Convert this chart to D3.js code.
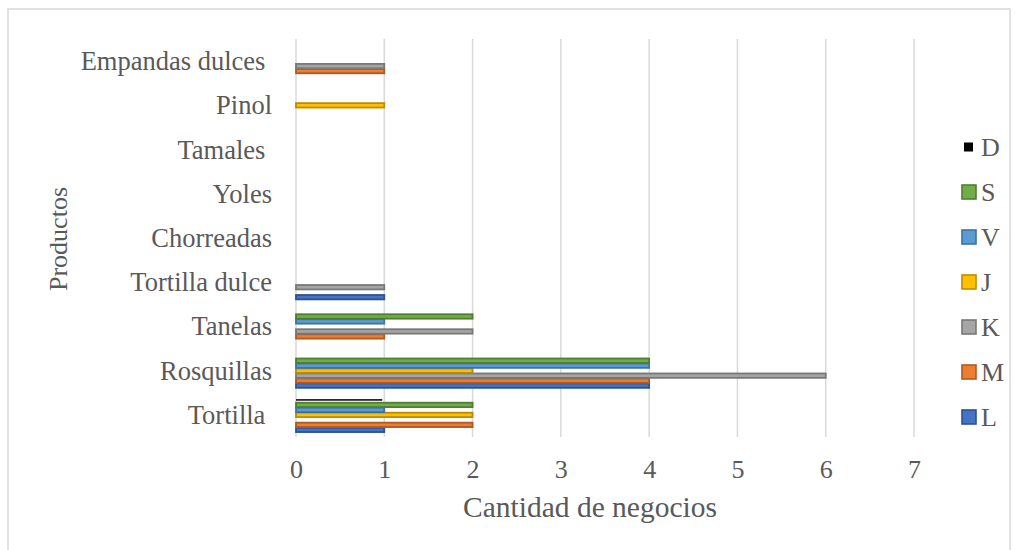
<!DOCTYPE html>
<html>
<head>
<meta charset="utf-8">
<script src="https://cdn.jsdelivr.net/npm/d3@7"></script>
<style>
  html, body { margin: 0; padding: 0; background: #fff; }
  svg { display: block; font-family: "Liberation Serif", "Times New Roman", serif; }
  text { white-space: pre; }
</style>
</head>
<body>
<svg id="chart" width="1018" height="550"></svg>
<script>
// Products, listed from the bottom of the chart to the top
const categories = ["Tortilla ", "Rosquillas", "Tanelas", "Tortilla dulce", "Chorreadas", "Yoles", "Tamales ", "Pinol", "Empandas dulces "];

// Number of businesses per product, one array per series
const L = [1, 4, 0, 1, 0, 0, 0, 0, 0];
const M = [2, 4, 1, 0, 0, 0, 0, 0, 1];
const K = [0, 6, 2, 1, 0, 0, 0, 0, 1];
const J = [2, 2, 0, 0, 0, 0, 0, 1, 0];
const V = [1, 4, 1, 0, 0, 0, 0, 0, 0];
const S = [2, 4, 2, 0, 0, 0, 0, 0, 0];
const D = [1, 0, 0, 0, 0, 0, 0, 0, 0];

const seriesNames = ["L", "M", "K", "J", "V", "S", "D"];
const seriesValues = [L, M, K, J, V, S, D];
const xTicks = [0, 1, 2, 3, 4, 5, 6, 7];

const fills   = { L: "#4472C4", M: "#ED7D31", K: "#A5A5A5", J: "#FFC000", V: "#5B9BD5", S: "#70AD47", D: "#000000" };
const strokes = { L: "#2F528F", M: "#AE5A21", K: "#787878", J: "#BC8C00", V: "#41719C", S: "#507E32", D: "#000000" };

const svg = d3.select("#chart");
const textColor = "#595959";

// Outer chart frame
svg.append("rect")
  .attr("x", 8).attr("y", 9).attr("width", 1002).attr("height", 560)
  .attr("fill", "#fff").attr("stroke", "#D9D9D9").attr("stroke-width", 1.5);

const plot = { left: 296, right: 914, top: 39, bottom: 437 };

const x = d3.scaleLinear().domain([0, 7]).range([plot.left, plot.right]);
const y = d3.scaleBand().domain(categories).range([plot.bottom, plot.top]).paddingInner(0.21).paddingOuter(0.105);
// Series stacked upward inside each band: L at the bottom, D at the top
const ySeries = d3.scaleBand().domain(seriesNames).range([y.bandwidth(), 0]);

// Vertical gridlines
svg.append("g")
  .selectAll("line")
  .data(xTicks)
  .join("line")
  .attr("x1", d => x(d)).attr("x2", d => x(d))
  .attr("y1", plot.top).attr("y2", plot.bottom)
  .attr("stroke", "#D9D9D9").attr("stroke-width", 1.5);

// X tick labels
const xAxis = d3.axisBottom(x).tickValues(xTicks).tickSize(0).tickPadding(0).tickFormat(d3.format("d"));
const gx = svg.append("g").attr("transform", `translate(0,${plot.bottom})`).call(xAxis);
gx.select(".domain").remove();
gx.selectAll("text")
  .attr("y", 41).attr("dy", null)
  .attr("fill", textColor)
  .style("font-size", "26px")
  .style("font-family", "Liberation Serif, serif");

// Y category labels
const yAxis = d3.axisLeft(y).tickSize(0).tickPadding(0);
const gy = svg.append("g").attr("transform", `translate(${plot.left - 24},0)`).call(yAxis);
gy.select(".domain").remove();
gy.selectAll("text")
  .attr("dy", "9")
  .attr("x", 0)
  .attr("fill", textColor)
  .style("font-size", "26.5px")
  .style("font-family", "Liberation Serif, serif");

// Bars
const groups = svg.append("g")
  .selectAll("g")
  .data(categories)
  .join("g")
  .attr("transform", d => `translate(0,${y(d)})`);

groups.each(function(cat, ci) {
  const g = d3.select(this);
  seriesNames.forEach((s, si) => {
    const v = seriesValues[si][ci];
    if (!v) return;
    const h = ySeries.bandwidth();
    if (s === "D") {
      g.append("rect")
        .attr("x", x(0))
        .attr("y", ySeries(s) + h / 2 - 0.75)
        .attr("width", x(v) - x(0) - 2)
        .attr("height", 1.5)
        .attr("fill", fills[s]);
    } else {
      g.append("rect")
        .attr("x", x(0))
        .attr("y", ySeries(s) + 0.3)
        .attr("width", x(v) - x(0))
        .attr("height", h - 0.6)
        .attr("fill", fills[s])
        .attr("stroke", strokes[s])
        .attr("stroke-width", 1.8);
    }
  });
});

// Axis titles
svg.append("text")
  .attr("x", 590).attr("y", 517)
  .attr("text-anchor", "middle")
  .attr("fill", textColor)
  .style("font-size", "29.5px")
  .text("Cantidad de negocios");

svg.append("text")
  .attr("transform", "translate(67,239) rotate(-90)")
  .attr("text-anchor", "middle")
  .attr("fill", textColor)
  .style("font-size", "26px")
  .text("Productos");

// Legend, D at the top down to L at the bottom
const legendOrder = seriesNames.slice().reverse();
const legend = svg.append("g")
  .selectAll("g")
  .data(legendOrder)
  .join("g")
  .attr("transform", (d, i) => `translate(0,${147 + i * 45})`);

legend.append("rect")
  .attr("x", d => d === "D" ? 964 : 962)
  .attr("y", d => d === "D" ? -4.5 : -7)
  .attr("width", d => d === "D" ? 9 : 14)
  .attr("height", d => d === "D" ? 9 : 14)
  .attr("fill", d => fills[d])
  .attr("stroke", d => d === "D" ? "none" : strokes[d])
  .attr("stroke-width", 1.6);

legend.append("text")
  .attr("x", 981)
  .attr("y", 9)
  .attr("fill", textColor)
  .style("font-size", "26px")
  .text(d => d);
</script>
</body>
</html>
